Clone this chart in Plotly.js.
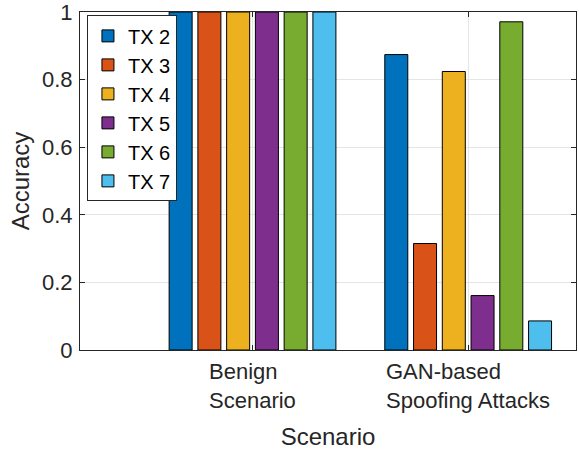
<!DOCTYPE html>
<html>
<head>
<meta charset="utf-8">
<script src="https://cdn.plot.ly/plotly-3.0.1.min.js"></script>
<style>html,body{margin:0;padding:0;background:#fff;}#chart{width:579px;height:452px;}</style>
</head>
<body>
<div id="chart"></div>
<script>
const categories = ["Benign<br>Scenario", "GAN-based<br>Spoofing Attacks"];
const seriesNames = ["TX 2", "TX 3", "TX 4", "TX 5", "TX 6", "TX 7"];
const tx2 = [1.0, 0.874];
const tx3 = [1.0, 0.315];
const tx4 = [1.0, 0.824];
const tx5 = [1.0, 0.161];
const tx6 = [1.0, 0.971];
const tx7 = [1.0, 0.086];
const yTicks = [0, 0.2, 0.4, 0.6, 0.8, 1];
const yTickLabels = ["0", "0.2", "0.4", "0.6", "0.8", "1"];

const seriesValues = [tx2, tx3, tx4, tx5, tx6, tx7];
const colors = ["#0072BD", "#D95319", "#EDB120", "#7E2F8E", "#77AC30", "#4DBEEE"];
const xIdx = categories.map((c, i) => i);
const fontFam = "Liberation Sans, Arial, Helvetica, sans-serif";
const textCol = "#262626";

const traces = seriesValues.map((vals, k) => ({
  type: "bar",
  name: seriesNames[k],
  x: xIdx,
  y: vals,
  marker: {color: colors[k], line: {color: "#000000", width: 1}},
  hoverinfo: "name+y"
}));

const annotations = categories.map((c, i) => ({
  x: i, xref: "x", y: 0, yref: "paper", yshift: -7,
  text: c, showarrow: false, align: "left", xanchor: "center", yanchor: "top",
  font: {family: fontFam, size: 22, color: textCol}
}));

const layout = {
  width: 579, height: 452,
  margin: {l: 80, r: 3, t: 12, b: 102},
  paper_bgcolor: "#ffffff", plot_bgcolor: "#ffffff",
  font: {family: fontFam, color: textCol, size: 22},
  barmode: "group", bargap: 0.2, bargroupgap: 0.2,
  showlegend: true,
  legend: {
    x: 0.014, y: 0.99, xanchor: "left", yanchor: "top",
    bgcolor: "#ffffff", bordercolor: "#262626", borderwidth: 1,
    font: {family: fontFam, size: 20, color: "#000000"},
    tracegroupgap: 0
  },
  xaxis: {
    type: "linear", range: [-0.8, 1.5],
    tickvals: xIdx, showticklabels: false,
    ticks: "inside", ticklen: 5, tickcolor: textCol,
    showline: true, linecolor: textCol, linewidth: 1, mirror: "ticks",
    showgrid: true, gridcolor: "#e5e5e5", zeroline: false,
    title: {text: "Scenario", font: {family: fontFam, size: 24, color: textCol}, standoff: 78}
  },
  yaxis: {
    range: [0, 1], tickvals: yTicks, ticktext: yTickLabels,
    ticklabeloverflow: "allow",
    ticks: "inside", ticklen: 5, tickcolor: textCol,
    showline: true, linecolor: textCol, linewidth: 1, mirror: "ticks",
    showgrid: true, gridcolor: "#e5e5e5", zeroline: false,
    ticklabelstandoff: 2,
    tickfont: {family: fontFam, size: 22, color: textCol},
    title: {text: "Accuracy", font: {family: fontFam, size: 24, color: textCol}, standoff: 5}
  },
  annotations: annotations
};

Plotly.newPlot("chart", traces, layout, {displayModeBar: false, staticPlot: true});
</script>
</body>
</html>
